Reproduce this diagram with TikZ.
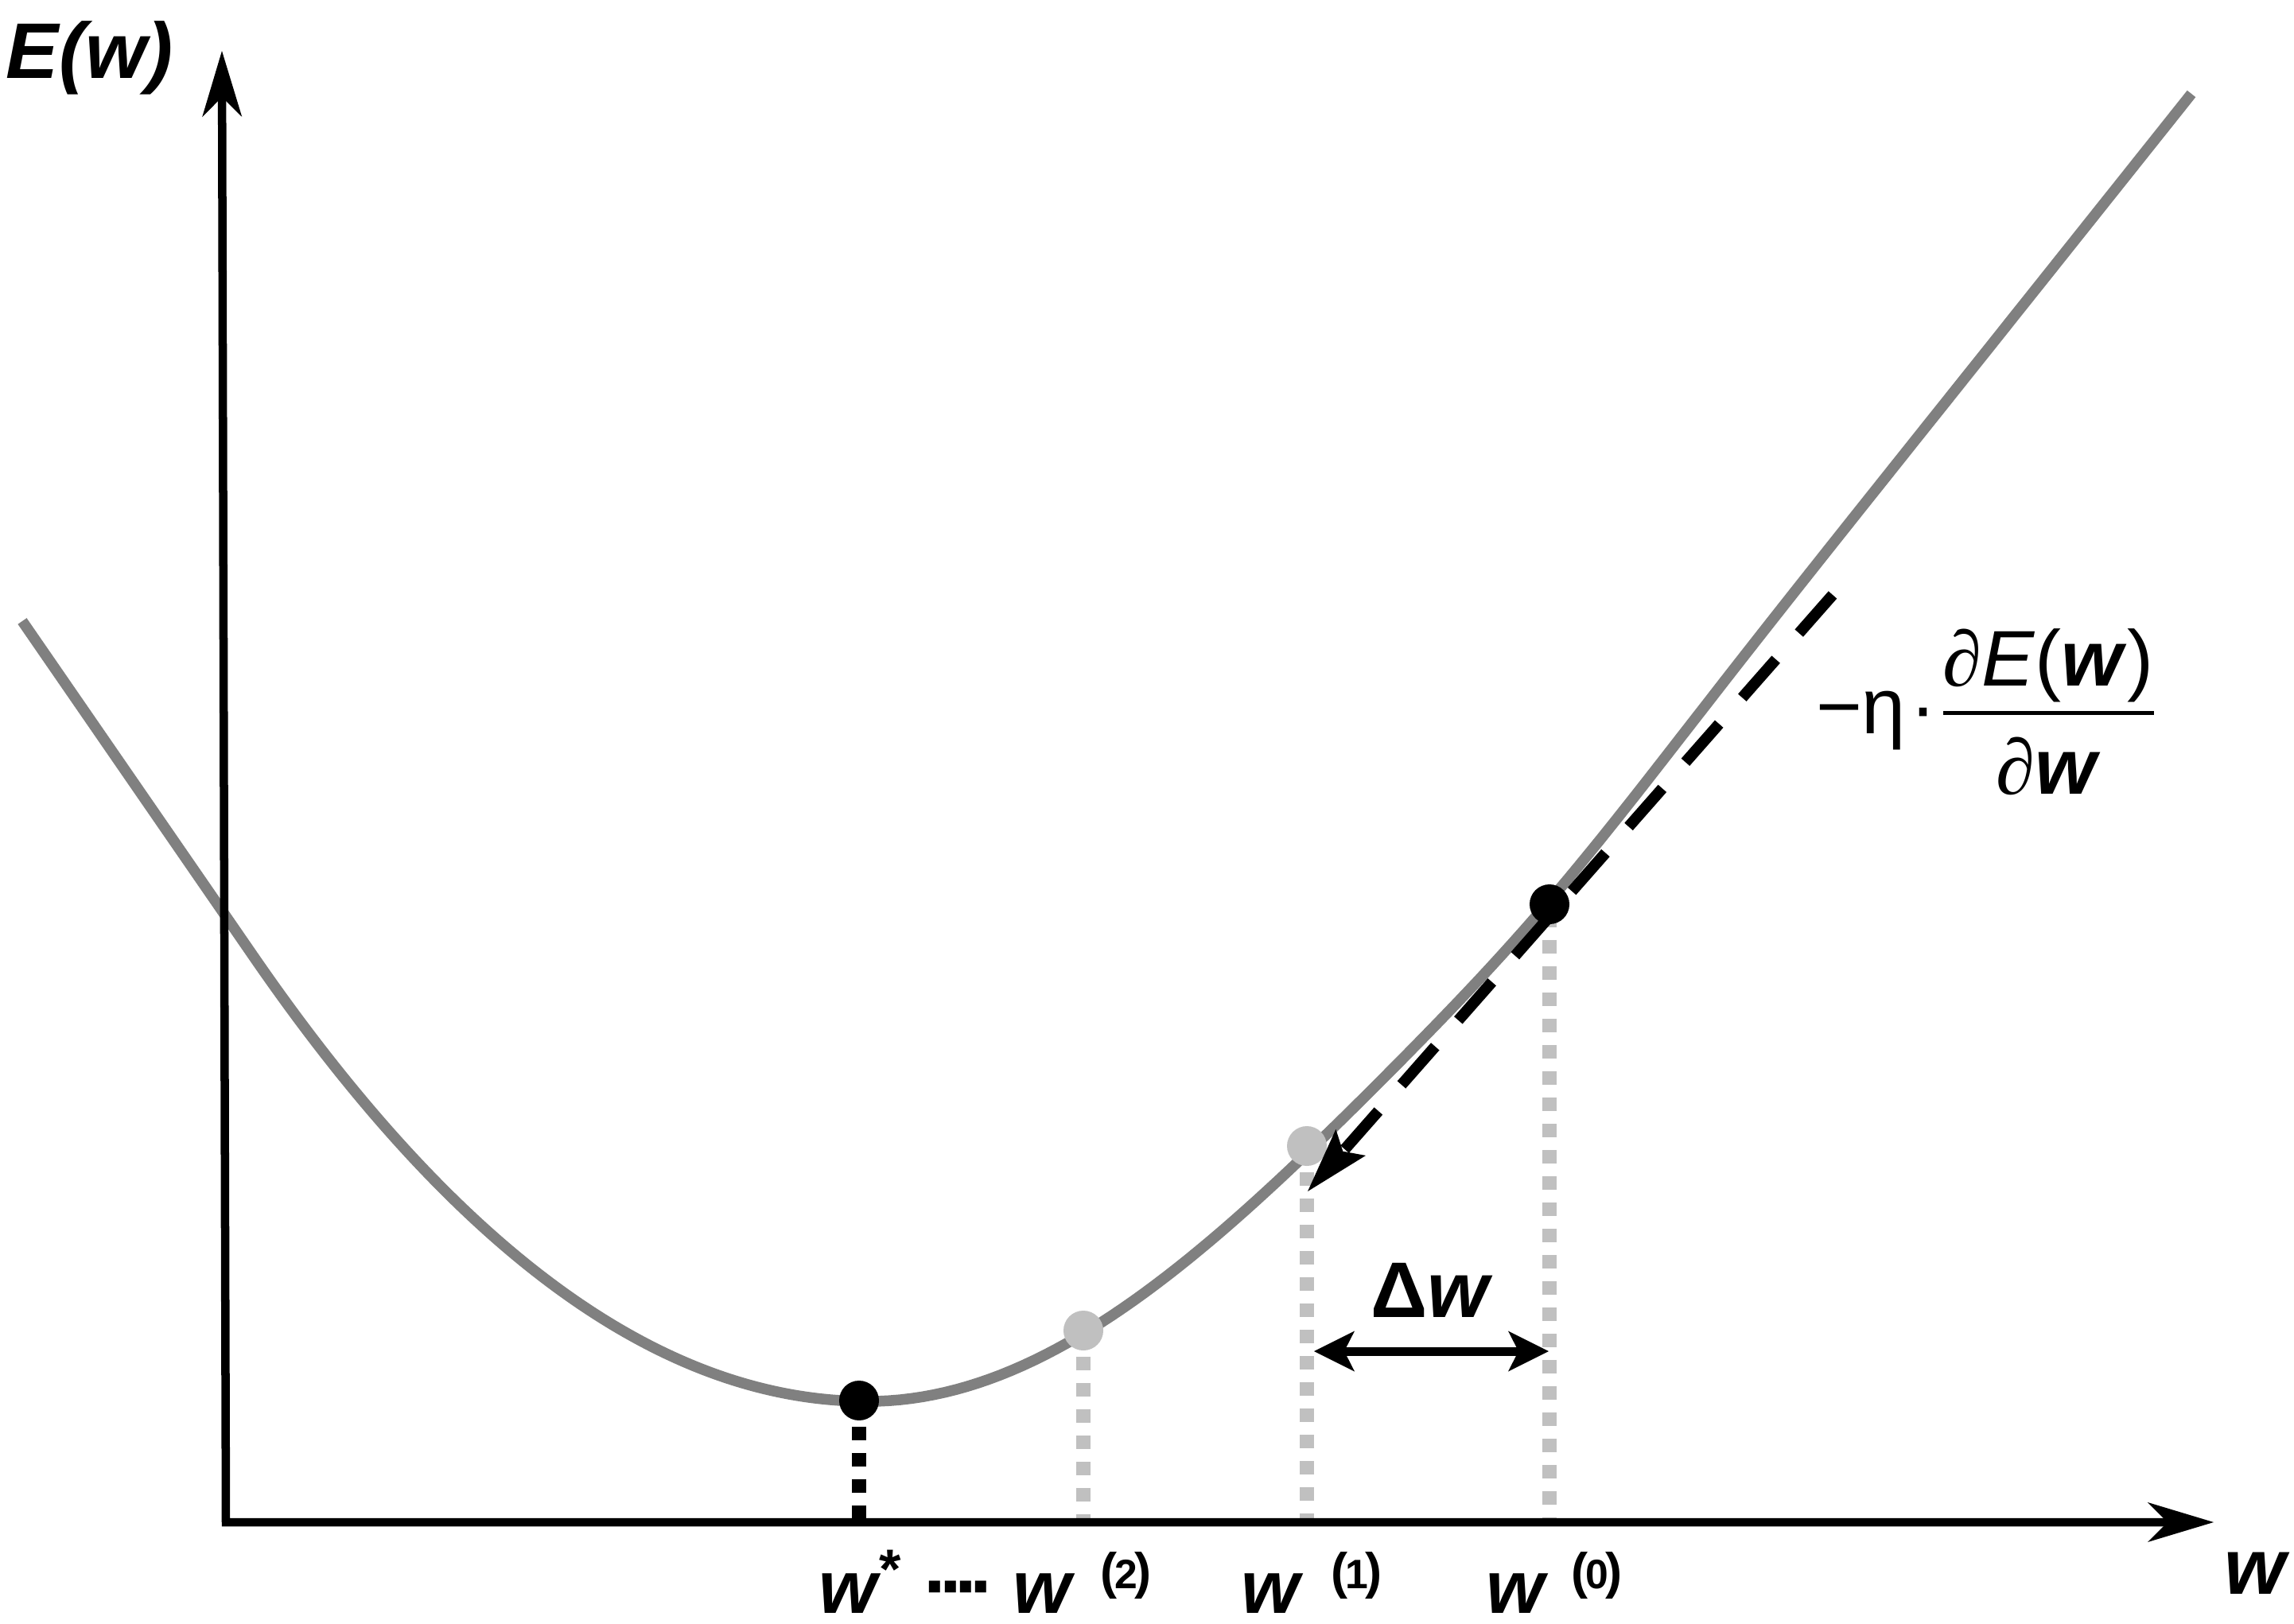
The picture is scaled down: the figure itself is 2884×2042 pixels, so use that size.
\documentclass[tikz,border=0pt]{standalone}
\usepackage{fontspec}
\setmainfont{Liberation Sans}
\newfontfamily\symserif{Liberation Serif}
\usetikzlibrary{arrows.meta}
\definecolor{curvegray}{RGB}{128,128,128}
\definecolor{dotgray}{RGB}{192,192,192}
\newcommand\bigfs{\fontsize{28.2pt}{34pt}\selectfont}
\newcommand\tickfs{\fontsize{26.8pt}{32pt}\selectfont}
\newcommand\parfs{\fontsize{18pt}{20pt}\selectfont}
\newcommand\digfs{\fontsize{14.7pt}{17pt}\selectfont}
\newcommand\wsup[1]{\parfs(\kern-0.03cm\digfs #1\kern-0.03cm\parfs)}
\tikzset{
  axtip/.tip={Stealth[length=0.83cm,width=0.5cm,inset=0.25cm,line width=0pt]},
  dwtip/.tip={Stealth[length=0.51cm,width=0.51cm,inset=0.13cm,line width=0pt]},
  tgtip/.tip={Stealth[length=0.82cm,width=0.5cm,inset=0.15cm,line width=0pt]},
  txt/.style={inner sep=0pt, outer sep=0pt, font=\bigfs},
  lbl/.style={inner sep=0pt, outer sep=0pt, font=\bigfs\bfseries\itshape},
  ticklbl/.style={inner ysep=0pt, inner xsep=0.06cm, outer sep=0pt, font=\tickfs\bfseries\itshape, anchor=base},
  suplbl/.style={inner sep=0pt, outer sep=0pt, font=\bfseries, anchor=base west},
  axisline/.style={line width=0.105cm, line join=miter, axtip-axtip},
  ecurve/.style={line width=0.135cm, draw=curvegray},
  vline/.style={line width=0.175cm, dash pattern=on 0.17cm off 0.16cm, draw=dotgray},
  bvline/.style={line width=0.175cm, dash pattern=on 0.17cm off 0.16cm, draw=black},
  bdot/.style={circle, fill=black, draw=none, minimum size=0.5cm, inner sep=0pt},
  gdot/.style={circle, fill=dotgray, draw=none, minimum size=0.5cm, inner sep=0pt},
  tangline/.style={line width=0.14cm, dash pattern=on 0.64cm off 0.44cm, -tgtip},
  dwline/.style={line width=0.11cm, dwtip-dwtip},
}
\begin{document}
\begin{tikzpicture}[x=0.01cm, y=-0.01cm]
\fill[white] (0,0) rectangle (2884,2042);
\useasboundingbox (0,0) rectangle (2884,2042);

% key coordinates
\coordinate (ytop) at (279,64);
\coordinate (O) at (284,1914);
\coordinate (xend) at (2783,1914);
\coordinate (p0) at (1948,1137);
\coordinate (p1) at (1643,1441);
\coordinate (p2) at (1362,1673);
\coordinate (pstar) at (1080,1761);

% error curve: straight left flank, parabolic bottom, smooth right flank
\draw[ecurve] (28,781) -- (319,1203)
  .. controls (576,1575.7) and (833,1762) .. (1090,1762)
  -- plot[domain=0:1665, samples=120]
     ({1090+\x},{1762-(655*ln(cosh(\x/520))-21/(1+((\x-858)/220)^2+0.5*((\x-858)/220)^4))});

% dotted drop lines
\draw[bvline] (pstar) -- (pstar |- O);
\draw[vline] (p2) -- (p2 |- O);
\draw[vline] (p1) -- (p1 |- O);
\draw[vline, dash phase=0.21cm] (p0) -- (p0 |- O);

% axes
\draw[axisline] (ytop) -- (O) -- (xend);

% points on the curve
\node[bdot] (dstar) at (pstar) {};
\node[gdot] (d2) at (p2) {};
\node[gdot] (d1) at (p1) {};
\node[bdot] (d0) at (p0) {};

% tangent step arrow
\coordinate (tstart) at (2304,748);
\coordinate (ttip) at (1644,1498);
\draw[tangline] (tstart) -- (ttip);

% delta w arrow
\coordinate (dwl) at (1652,1699);
\coordinate (dwr) at (1947,1699);
\draw[dwline] (dwl) -- (dwr);
\node[txt, font=\bigfs\bfseries, anchor=base] (dwlabel) at (1800,1656) {Δ\textit{w}};

% axis labels
\node[lbl, anchor=base west] (Elabel) at (8,98) {E(w)};
\node[lbl, anchor=base] (waxis) at (2835,2004) {w};

% tick labels
\node[ticklbl] (wstar) at (1066,2028) {w};
\node[suplbl, font=\fontsize{20pt}{22pt}\selectfont\bfseries] (wstarsup) at (1105,1997) {*};
\node[txt, font=\bigfs\bfseries, anchor=base] (dots) at (1207,2028) {·\kern-0.14em·\kern-0.14em·\kern-0.14em·};
\node[ticklbl] (w2) at (1310,2028) {w};
\node[suplbl] (w2sup) at (1383,1997) {\wsup{2}};
\node[ticklbl] (w1) at (1597,2028) {w};
\node[suplbl] (w1sup) at (1673,1997) {\wsup{1}};
\node[ticklbl] (w0) at (1905,2028) {w};
\node[suplbl] (w0sup) at (1975,1997) {\wsup{0}};

% gradient formula
\node[txt, anchor=base west] (lhs) at (2283,922) {−η\kern0.05em·};
\node[txt, anchor=base] (num) at (2575,862) {{\symserif ∂}\textit{E}(\textbf{\textit{w}})};
\node[txt, anchor=base] (den) at (2575,998) {{\symserif ∂}\textbf{\textit{w}}};
\coordinate (barL) at (2443,896);
\coordinate (barR) at (2708,896);
\draw[line width=0.05cm] (barL) -- (barR);
\end{tikzpicture}
\end{document}
